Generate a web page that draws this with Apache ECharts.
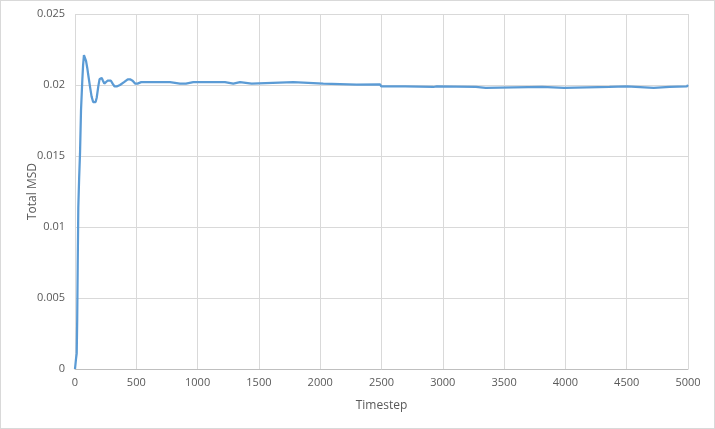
<!DOCTYPE html>
<html>
<head>
<meta charset="utf-8">
<script src="https://cdn.jsdelivr.net/npm/echarts@6/dist/echarts.min.js"></script>
<style>
  html, body { margin: 0; padding: 0; background: #fff; }
  #chart { width: 713px; height: 427px; border: 1px solid #d9d9d9; }
</style>
</head>
<body>
<div id="chart"></div>
<script>
// timestep / total MSD pairs
const timesteps = [
  0, 8, 14, 18, 22, 27, 34, 41, 49, 60, 66, 73, 80, 90, 100, 110, 122, 135, 148, 158, 168,
  177, 190, 200, 209, 218, 228, 239, 250, 265, 280, 293, 307, 322, 340, 367, 400, 430, 449,
  470, 490, 510, 540, 693, 775, 856, 905,
  965, 1223, 1233, 1291, 1301, 1346, 1356, 1441, 1451, 1781, 1791, 2025, 2035, 2297,
  2307, 2488, 2498, 2692, 2702, 2923, 2950, 3270, 3280, 3350, 3360, 3810, 3820, 3990,
  4000, 4360, 4370, 4500, 4510, 4720, 4730, 4850, 4860, 4990, 5000
]
const msd = [
  0, 0.0007, 0.0011, 0.0035, 0.0072, 0.0114, 0.0135, 0.0152, 0.0182, 0.0204, 0.0214, 0.0221, 0.0221, 0.0217, 0.0212, 0.0206, 0.0199, 0.0192, 0.0188, 0.0187, 0.0188,
  0.0191, 0.0199, 0.0204, 0.0205, 0.0205, 0.0203, 0.0201, 0.0202, 0.0203, 0.0204, 0.0203, 0.0201, 0.0199, 0.0199, 0.0200, 0.0202, 0.0204, 0.0204,
  0.0203, 0.0201, 0.0201, 0.0202, 0.0202, 0.0202, 0.0201, 0.0201,
  0.0202, 0.0202, 0.0201, 0.0201, 0.0202, 0.0202, 0.0201, 0.0201, 0.0202, 0.0202, 0.0201, 0.0201, 0.02002, 0.02002,
  0.02005, 0.02005, 0.0199, 0.0199, 0.01986, 0.01986, 0.0199, 0.01986, 0.01979, 0.01979, 0.01986, 0.01986, 0.01979, 0.01979,
  0.01986, 0.01986, 0.0199, 0.0199, 0.01979, 0.01979, 0.01986, 0.01986, 0.0199, 0.0199, 0.0200
]
const xTicks = { min: 0, max: 5000, interval: 500 }
const yTicks = { min: 0, max: 0.025, interval: 0.005 }

const chart = echarts.init(document.getElementById('chart'))
const labelFont = '"Open Sans", "Noto Sans", sans-serif'

chart.setOption({
  animation: false,
  grid: { left: 74, right: 26, top: 13, bottom: 59 },
  xAxis: {
    type: 'value',
    min: xTicks.min,
    max: xTicks.max,
    interval: xTicks.interval,
    name: 'Timestep',
    nameLocation: 'middle',
    nameGap: 31,
    nameTextStyle: { color: '#595959', fontSize: 12, fontFamily: labelFont },
    axisLine: { show: true, lineStyle: { color: '#bfbfbf', width: 1 } },
    axisTick: { show: false },
    axisLabel: { color: '#595959', fontSize: 11, fontFamily: labelFont, margin: 8, formatter: v => String(v) },
    splitLine: { show: true, lineStyle: { color: '#d9d9d9', width: 1 } }
  },
  yAxis: {
    type: 'value',
    min: yTicks.min,
    max: yTicks.max,
    interval: yTicks.interval,
    name: 'Total MSD',
    nameLocation: 'middle',
    nameGap: 36,
    nameMoveOverlap: false,
    nameTextStyle: { color: '#595959', fontSize: 12, fontFamily: labelFont },
    axisLine: { show: false },
    axisTick: { show: false },
    axisLabel: { color: '#595959', fontSize: 11, fontFamily: labelFont, margin: 10, formatter: v => String(v) },
    splitLine: { show: true, lineStyle: { color: '#d9d9d9', width: 1 } }
  },
  series: [{
    type: 'line',
    data: timesteps.map((t, i) => [t, msd[i]]),
    showSymbol: false,
    smooth: false,
    lineStyle: { color: '#5b9bd5', width: 2.25 },
    itemStyle: { color: '#5b9bd5' }
  }]
})
</script>
</body>
</html>
